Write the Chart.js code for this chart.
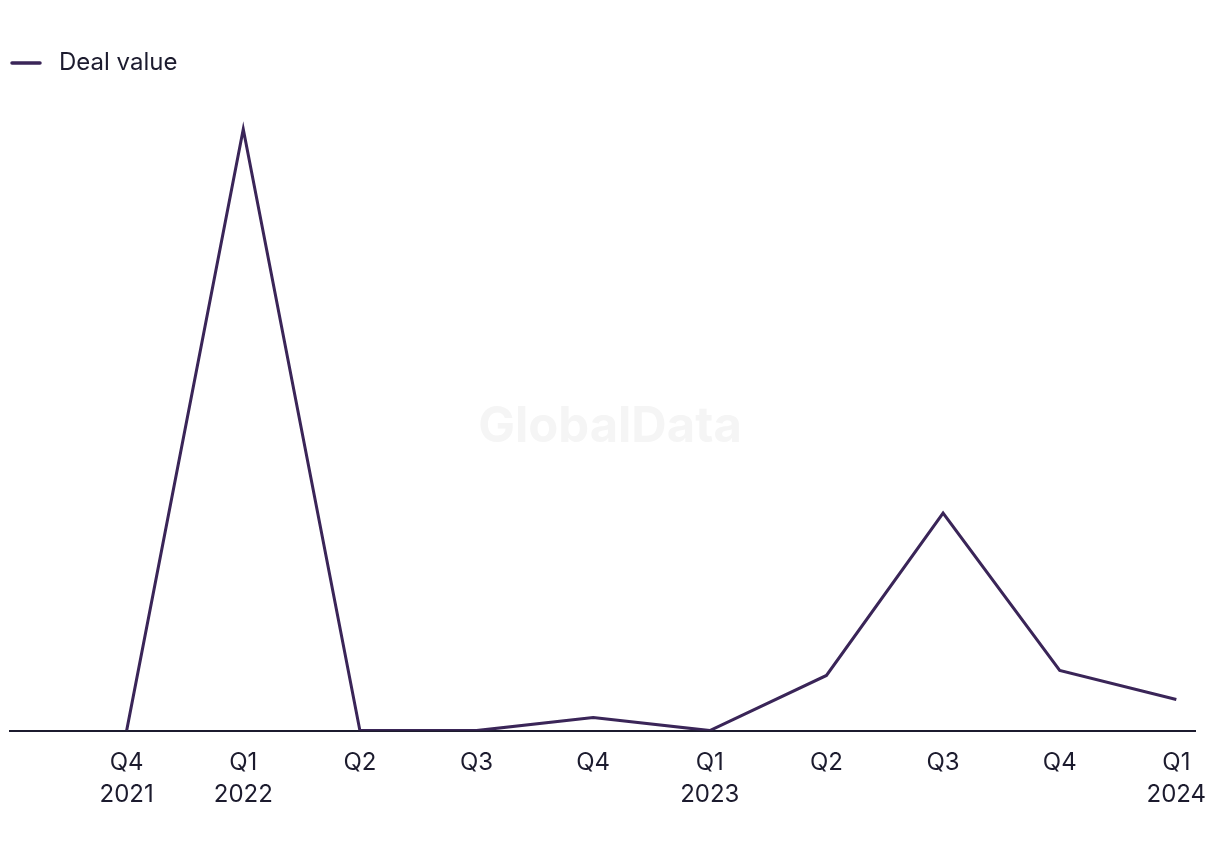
<!DOCTYPE html>
<html>
<head>
<meta charset="utf-8">
<script src="https://cdn.jsdelivr.net/npm/chart.js@4.4.1/dist/chart.umd.min.js"></script>
<style>
  html, body { margin: 0; padding: 0; background: #ffffff; }
  #wrap { width: 1220px; height: 850px; }
</style>
</head>
<body>
<div id="wrap"><canvas id="out"></canvas></div>
<script>
const quarters = ["Q4", "Q1", "Q2", "Q3", "Q4", "Q1", "Q2", "Q3", "Q4", "Q1"];
const years = ["2021", "2022", "", "", "", "2023", "", "", "", "2024"];
const dealValue = [0, 600, 0, 0, 13, 0, 55, 217, 60, 31];

const lineColor = "#3a2558";
const textColor = "#1c1b2e";

var points = [];
for (var i = 0; i < dealValue.length; i++) {
  points.push({ x: i, y: dealValue[i] });
}

// legend marker: short rounded line, left aligned in a 37px box
const marker = document.createElement("canvas");
marker.width = 37;
marker.height = 6;
const mctx = marker.getContext("2d");
mctx.strokeStyle = lineColor;
mctx.lineWidth = 3.5;
mctx.lineCap = "round";
mctx.beginPath();
mctx.moveTo(2, 3);
mctx.lineTo(30, 3);
mctx.stroke();

const watermark = {
  id: "watermark",
  beforeDatasetsDraw(chart) {
    const ctx = chart.ctx;
    ctx.save();
    ctx.font = "bold 49px Inter";
    ctx.fillStyle = "#f5f5f5";
    ctx.textAlign = "center";
    ctx.textBaseline = "middle";
    ctx.fillText("GlobalData", 610, 427);
    ctx.restore();
  }
};

const canvasCtx = document.getElementById("out").getContext("2d");

window.chart = new Chart(canvasCtx, {
  type: "line",
  data: {
    datasets: [{
      label: "Deal value",
      data: points,
      borderColor: lineColor,
      backgroundColor: lineColor,
      borderWidth: 3,
      pointRadius: 0,
      pointStyle: marker,
      tension: 0
    }]
  },
  options: {
    responsive: true,
    maintainAspectRatio: false,
    animation: false,
    layout: { padding: { top: 51, right: 25, bottom: 23, left: 10 } },
    plugins: {
      tooltip: { enabled: false },
      legend: {
        align: "start",
        labels: {
          usePointStyle: true,
          pointStyleWidth: 37,
          color: textColor,
          font: { family: "Inter", size: 24 },
          padding: 0
        }
      }
    },
    scales: {
      x: {
        type: "linear",
        min: -1,
        max: 9.16,
        afterBuildTicks: function(axis) {
          axis.ticks = quarters.map(function(q, i) { return { value: i }; });
        },
        afterFit: function(axis) {
          axis.paddingLeft = 0;
          axis.paddingRight = 0;
        },
        grid: { display: false, drawTicks: false },
        border: { display: true, color: textColor, width: 2 },
        ticks: {
          autoSkip: false,
          maxRotation: 0,
          padding: 17,
          color: textColor,
          font: { family: "Inter", size: 24, lineHeight: 1.3 },
          callback: function(value) {
            var i = Math.round(value);
            return years[i] ? [quarters[i], years[i]] : quarters[i];
          }
        }
      },
      y: {
        display: false,
        min: 0,
        max: 644
      }
    }
  },
  plugins: [watermark]
});
</script>
</body>
</html>
